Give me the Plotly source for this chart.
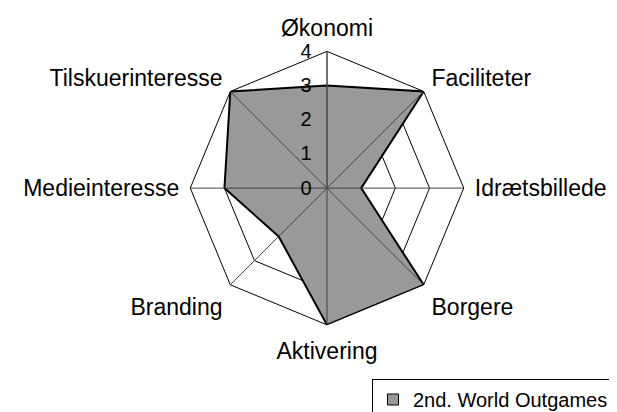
import plotly.graph_objects as go

categories = ["Økonomi", "Faciliteter", "Idrætsbillede", "Borgere",
              "Aktivering", "Branding", "Medieinteresse", "Tilskuerinteresse"]
values = [3, 4, 1, 4, 4, 2, 3, 4]
series_name = "2nd. World Outgames"
radial_ticks = [0, 1, 2, 3, 4]
r_max = 4

FONT = "Liberation Sans, Arial, sans-serif"
FILL = "rgb(153,153,153)"

fig = go.Figure()

# data polygon
fig.add_trace(go.Scatterpolar(
    r=values + values[:1],
    theta=categories + categories[:1],
    mode="lines",
    fill="toself",
    fillcolor=FILL,
    line=dict(color="black", width=2),
    name=series_name,
    showlegend=False,
    hoverinfo="skip",
))

# category spokes drawn above the filled area
spoke_r, spoke_t = [], []
for c in categories:
    spoke_r += [0, r_max, None]
    spoke_t += [c, c, None]
fig.add_trace(go.Scatterpolar(
    r=spoke_r, theta=spoke_t, mode="lines",
    line=dict(color="#444", width=1),
    showlegend=False, hoverinfo="skip", connectgaps=False,
))

# legend entry (square swatch like the original)
fig.add_trace(go.Scatterpolar(
    r=[None], theta=[None], mode="markers",
    marker=dict(symbol="square", size=11, color=FILL, line=dict(color="black", width=1)),
    name=series_name, showlegend=True, hoverinfo="skip",
))

W, H = 617, 412
cx, cy, rad = 319, 181, 137.4
fig.update_layout(
    width=W, height=H,
    margin=dict(l=0, r=0, t=0, b=0),
    paper_bgcolor="white",
    plot_bgcolor="white",
    font=dict(family=FONT, color="black", size=20),
    showlegend=True,
    polar=dict(
        domain=dict(x=[(cx - rad) / W, (cx + rad) / W],
                    y=[(H - cy - rad) / H, (H - cy + rad) / H]),
        gridshape="linear",
        bgcolor="white",
        angularaxis=dict(
            rotation=90, direction="clockwise",
            categoryorder="array", categoryarray=categories,
            showline=True, linecolor="black", linewidth=1,
            showgrid=False, ticks="outside", ticklen=6, tickcolor="rgba(0,0,0,0)",
            tickfont=dict(size=23, family=FONT, color="black"),
        ),
        radialaxis=dict(
            range=[0, r_max], tickvals=radial_ticks, ticktext=[str(v) for v in radial_ticks],
            angle=90, tickangle=90, side="counterclockwise",
            showline=True, linecolor="#444", linewidth=1,
            showgrid=True, gridcolor="black", gridwidth=1,
            ticks="outside", ticklen=8, tickcolor="rgba(0,0,0,0)",
            tickfont=dict(size=20, family=FONT, color="black"),
        ),
    ),
    legend=dict(
        x=606 / W, xanchor="right", y=1 - 373 / H, yanchor="top",
        bgcolor="white", bordercolor="black", borderwidth=1,
        font=dict(size=20, family=FONT, color="black"),
        itemwidth=30,
    ),
)

fig.write_html("out.html")
